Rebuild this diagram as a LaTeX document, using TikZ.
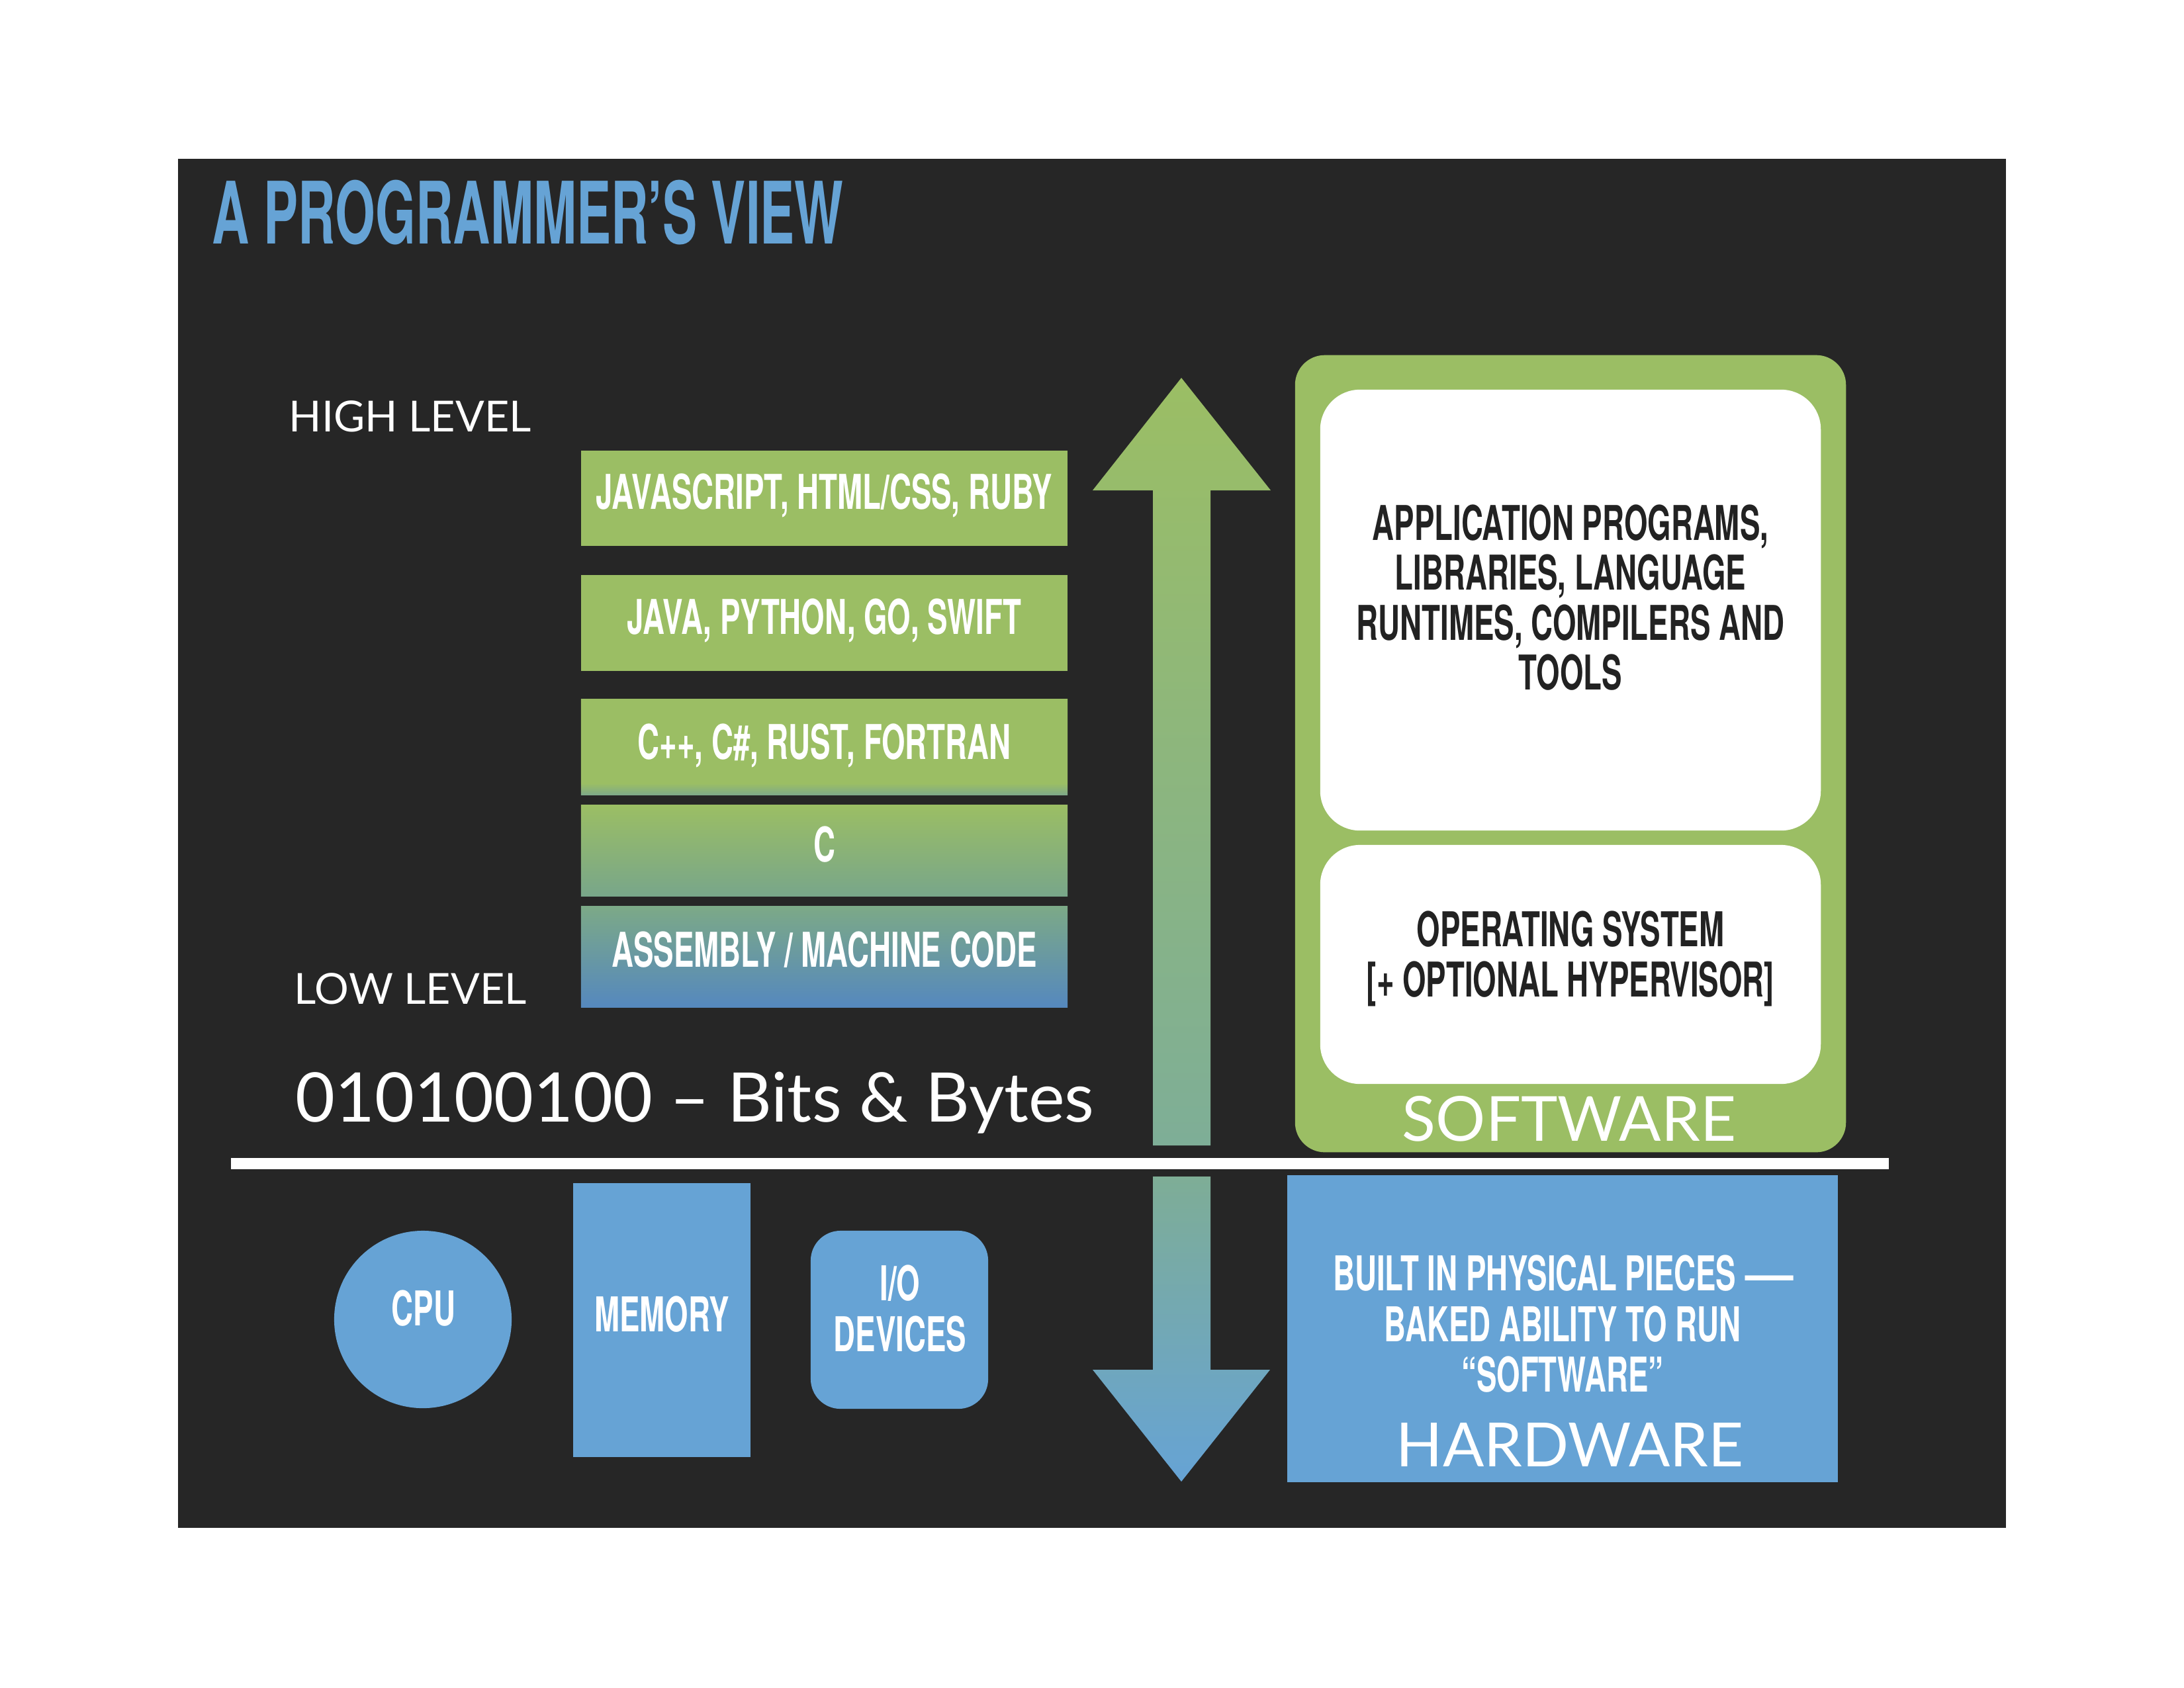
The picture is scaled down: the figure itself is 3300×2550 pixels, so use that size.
\documentclass[tikz,border=0pt]{standalone}
\usepackage{fontspec}
\newfontfamily\dinc{TeX Gyre Heros}[FakeStretch=0.63]
\newfontfamily\dint{TeX Gyre Heros}[FakeStretch=0.6]
\newfontfamily\herosn{TeX Gyre Heros}
\newfontfamily\aven{Lato}
\definecolor{panel}{HTML}{262626}
\definecolor{sgreen}{HTML}{9BBE64}
\definecolor{hblue}{HTML}{66A3D5}
\definecolor{tealA}{HTML}{7EA989}
\definecolor{tealB}{HTML}{78A68A}
\definecolor{tealC}{HTML}{7CA987}
\definecolor{asmmid}{HTML}{6598A6}
\definecolor{asmbot}{HTML}{5588BE}
\definecolor{upbot}{HTML}{7EAE97}
\definecolor{dntop}{HTML}{7EAD96}
\definecolor{darktext}{HTML}{222222}
\pgfdeclareverticalshading{boxthree}{100bp}{color(0bp)=(tealA); color(25bp)=(tealA); color(31bp)=(sgreen); color(100bp)=(sgreen)}
\begin{document}
\begin{tikzpicture}[x=0.01cm,y=-0.01cm,
  txt/.style={inner sep=0pt, text=white},
  cond/.style={font=\dinc\bfseries\fontsize{20.6}{24}\selectfont},
  langbox/.style={rectangle, draw=none, inner sep=0pt, minimum width=7.35cm},
  swbox/.style={rectangle, draw=none, fill=white, inner sep=0pt, rounded corners=0.6cm, minimum width=7.56cm},
  hwpart/.style={draw=none, fill=hblue, inner sep=0pt}]
\useasboundingbox (0,0) rectangle (3300,2550);
\fill[white] (0,0) rectangle (3300,2550);
\fill[panel] (269,240) rectangle (3031,2309);

% title
\node[txt, anchor=base west, text=hblue, font=\dint\bfseries\fontsize{37}{40}\selectfont] (title) at (320,368) {A PROGRAMMER’S VIEW};

% level labels
\node[txt, anchor=base west, font=\aven\fontsize{18.4}{22}\selectfont] (high) at (436,652) {HIGH LEVEL};
\node[txt, anchor=base west, font=\aven\fontsize{18.4}{22}\selectfont] (low) at (444,1517) {LOW LEVEL};
\node[txt, anchor=base west, font=\aven\fontsize{29.4}{32}\selectfont] (bits) at (446,1695) {010100100 – Bits \& Bytes};

% language boxes
\node[langbox, fill=sgreen, minimum height=1.44cm] (js) at (1245.5,753) {};
\node[langbox, fill=sgreen, minimum height=1.45cm] (java) at (1245.5,941.5) {};
\node[langbox, shading=boxthree, minimum height=1.44cm] (cpp) at (1245.5,1129) {};
\node[langbox, top color=sgreen, bottom color=tealB, minimum height=1.37cm] (cc) at (1245.5,1285.5) {};
\node[langbox, top color=tealC, middle color=asmmid, bottom color=asmbot, minimum height=1.52cm] (asm) at (1245.5,1446) {};
\node[txt, cond, anchor=base] (jsT) at (1245.5,769) {JAVASCRIPT, HTML/CSS, RUBY};
\node[txt, cond, anchor=base] (javaT) at (1245.5,958) {JAVA, PYTHON, GO, SWIFT};
\node[txt, cond, anchor=base] (cppT) at (1245.5,1147) {C++, C\#, RUST, FORTRAN};
\node[txt, cond, anchor=base] (ccT) at (1245.5,1302) {C};
\node[txt, cond, anchor=base] (asmT) at (1245.5,1461) {ASSEMBLY / MACHINE CODE};

% arrows
\shade[top color=sgreen, bottom color=upbot] (1742,1731) -- (1742,741) -- (1651,741) -- (1785,571) -- (1920,741) -- (1829,741) -- (1829,1731) -- cycle;
\shade[top color=dntop, bottom color=hblue] (1742,1778) -- (1829,1778) -- (1829,2070) -- (1919,2070) -- (1785,2239) -- (1651,2070) -- (1742,2070) -- cycle;

% divider
\fill[white] (349,1750) rectangle (2854,1767);

% software
\node[rectangle, draw=none, fill=sgreen, inner sep=0pt, rounded corners=0.45cm, minimum width=8.32cm, minimum height=12.04cm] (sw) at (2373,1139) {};
\node[swbox, minimum height=6.66cm] (apps) at (2373,922) {};
\node[swbox, minimum height=3.61cm] (os) at (2373,1457.5) {};
\node[txt, cond, anchor=base, text=darktext] (appsA) at (2373,816) {APPLICATION PROGRAMS,};
\node[txt, cond, anchor=base, text=darktext] (appsB) at (2373,891) {LIBRARIES, LANGUAGE};
\node[txt, cond, anchor=base, text=darktext] (appsC) at (2373,967) {RUNTIMES, COMPILERS AND};
\node[txt, cond, anchor=base, text=darktext] (appsD) at (2373,1042) {TOOLS};
\node[txt, cond, anchor=base, text=darktext] (osA) at (2373,1430) {OPERATING SYSTEM};
\node[txt, cond, anchor=base, text=darktext] (osB) at (2373,1506) {[+ OPTIONAL HYPERVISOR]};
\node[txt, anchor=base, font=\aven\fontsize{26.7}{29}\selectfont] (swT) at (2371,1724) {SOFTWARE};

% hardware
\node[hwpart, rectangle, minimum width=8.32cm, minimum height=4.64cm] (hw) at (2361,2008) {};
\node[txt, cond, anchor=base] (hwA) at (2362,1950) {BUILT IN PHYSICAL PIECES\hspace{0.14cm}{\herosn\bfseries —}};
\node[txt, cond, anchor=base] (hwB) at (2361,2027) {BAKED ABILITY TO RUN};
\node[txt, cond, anchor=base] (hwC) at (2361,2103) {“SOFTWARE”};
\node[txt, anchor=base, font=\aven\fontsize{26.2}{29}\selectfont] (hwT) at (2372,2216) {HARDWARE};

\node[hwpart, circle, minimum size=2.68cm] (cpu) at (639,1994) {};
\node[hwpart, rectangle, minimum width=2.68cm, minimum height=4.14cm] (mem) at (1000,1995) {};
\node[hwpart, rectangle, rounded corners=0.45cm, minimum width=2.68cm, minimum height=2.69cm] (io) at (1359,1994.5) {};
\node[txt, cond, anchor=base] (cpuT) at (640,2003) {CPU};
\node[txt, cond, anchor=base] (memT) at (1000,2012) {MEMORY};
\node[txt, cond, anchor=base] (ioA) at (1360,1965) {I/O};
\node[txt, cond, anchor=base] (ioB) at (1360,2042) {DEVICES};
\end{tikzpicture}
\end{document}
